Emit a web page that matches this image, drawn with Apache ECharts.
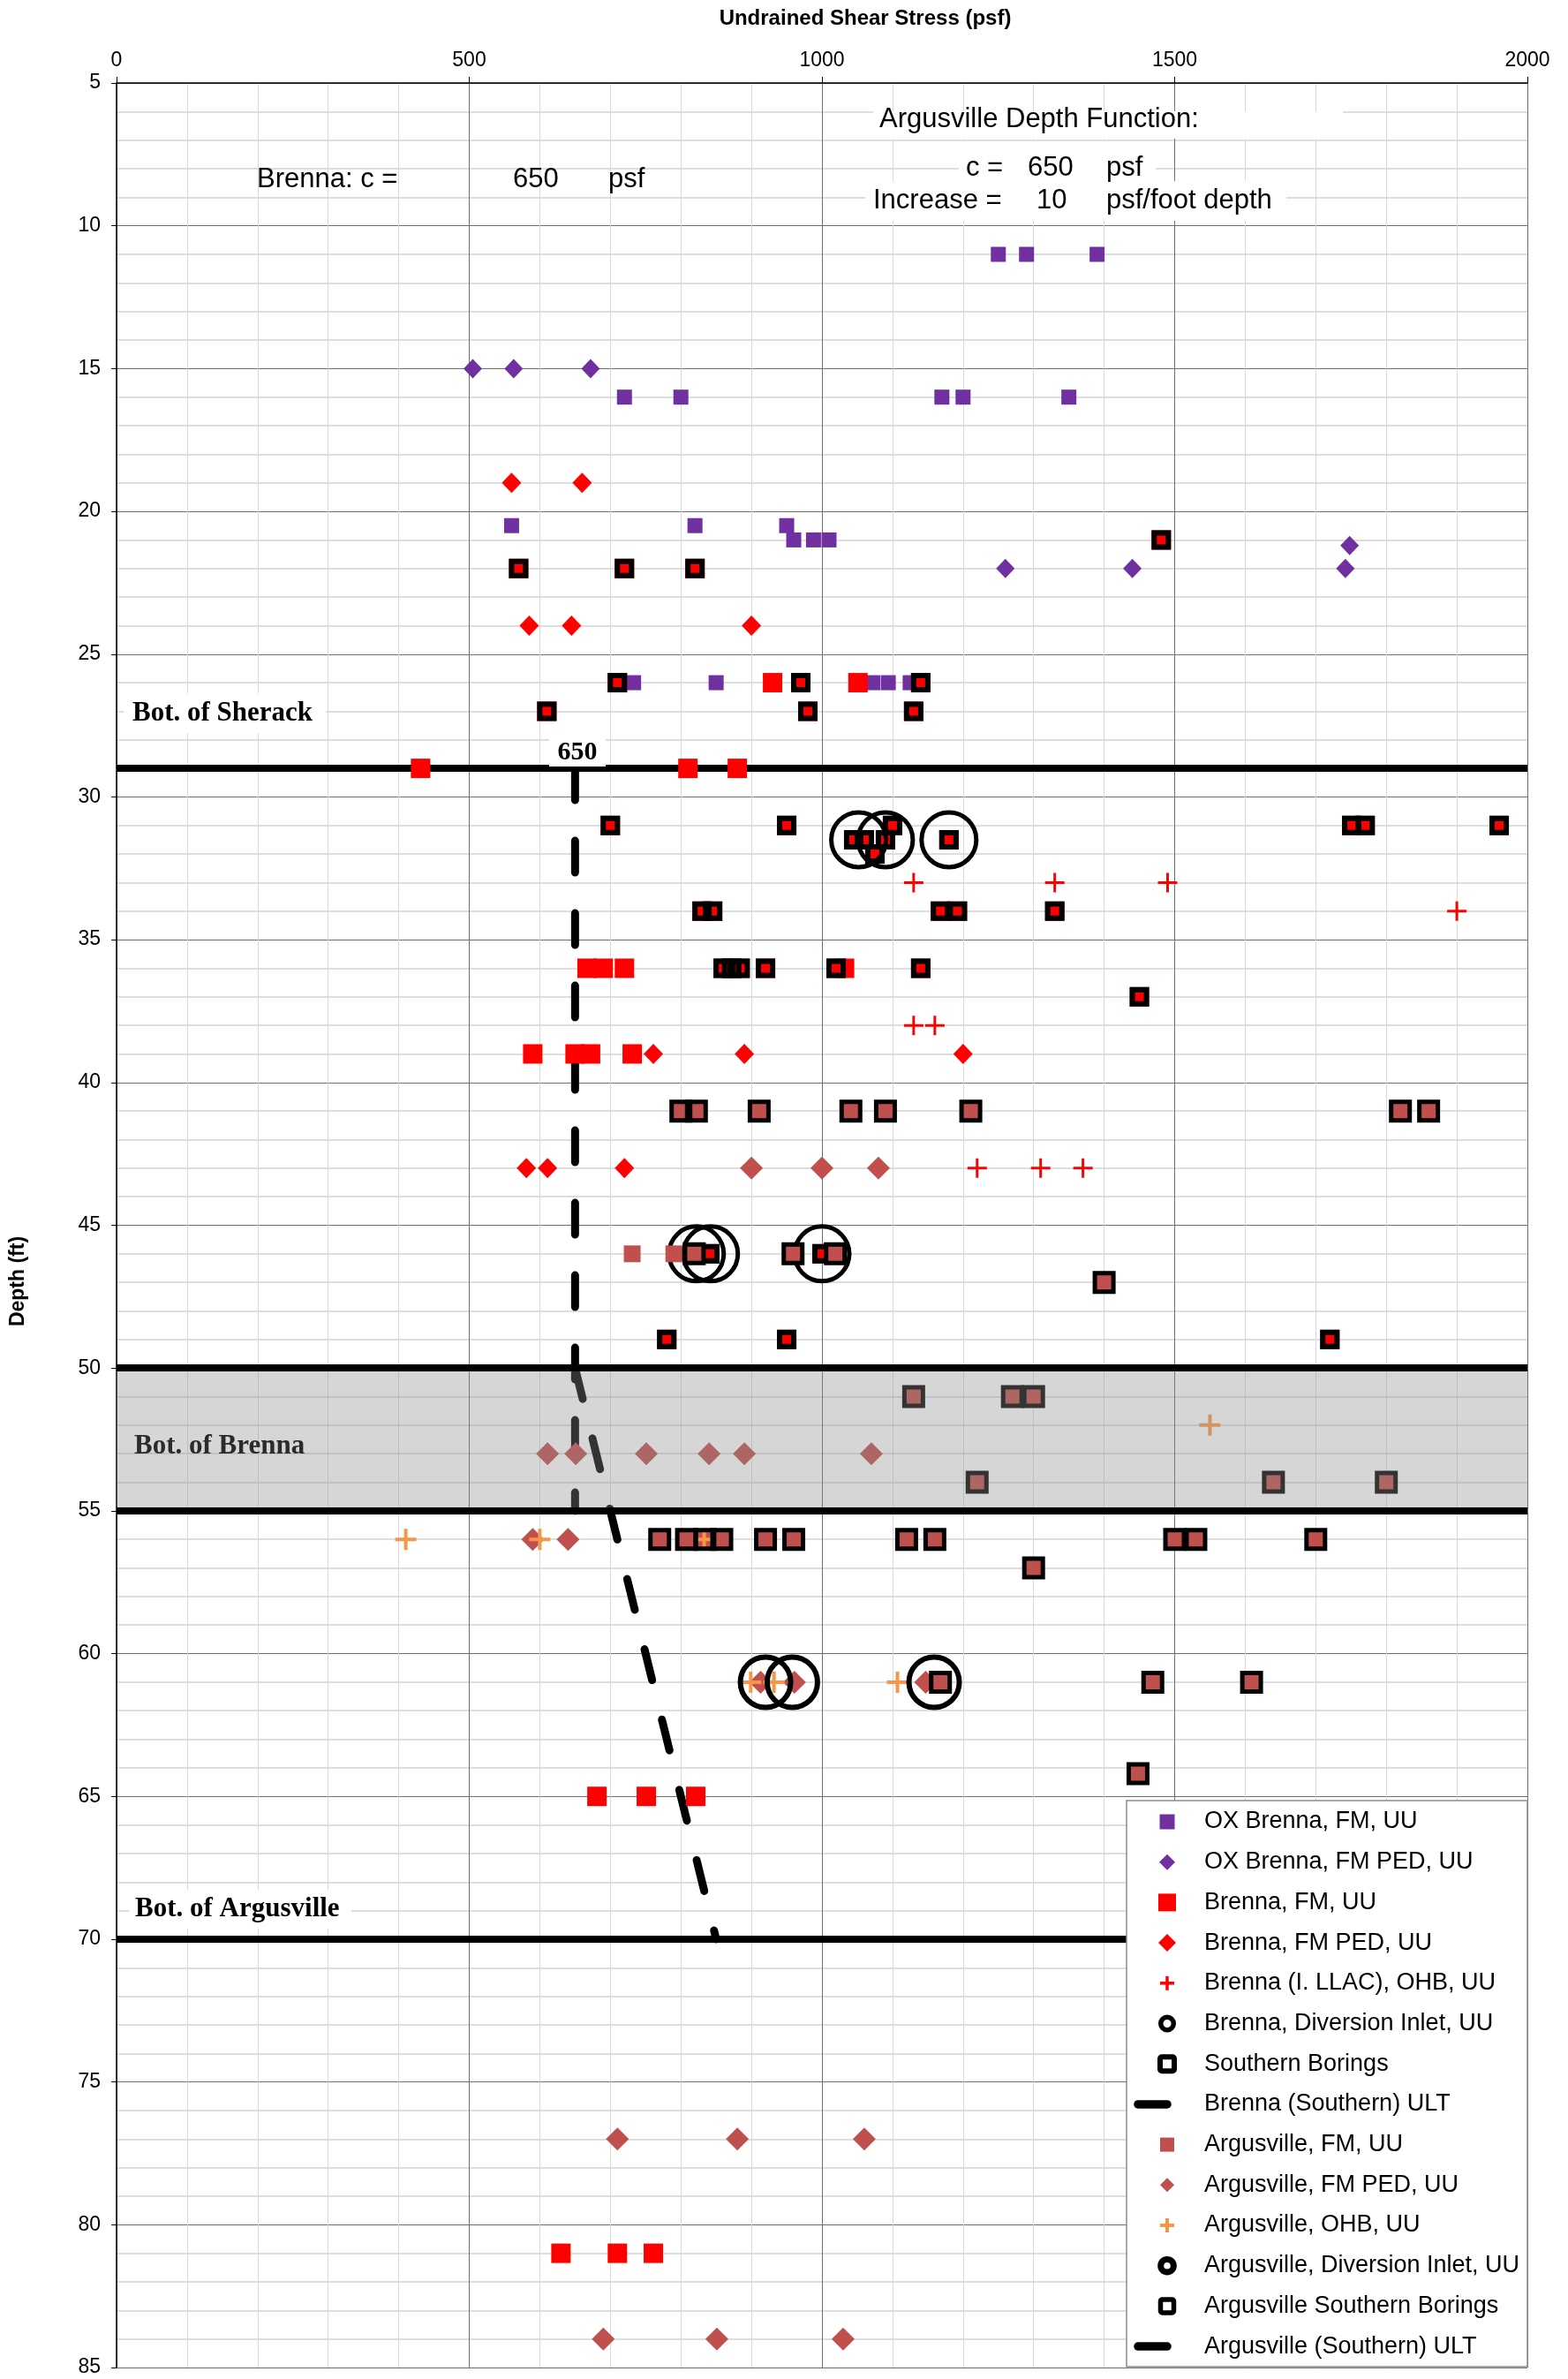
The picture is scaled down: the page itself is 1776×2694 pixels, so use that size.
<!DOCTYPE html>
<html>
<head>
<meta charset="utf-8">
<title>Undrained Shear Stress vs Depth</title>
<script src="https://cdn.jsdelivr.net/npm/echarts@6/dist/echarts.min.js"></script>
<style>
  html, body { margin: 0; padding: 0; background: #fff; }
  #chart { width: 1776px; height: 2694px; }
</style>
</head>
<body>
<div id="chart"></div>
<script>
  // each point is [shear stress (psf), depth (ft)]
  const oxBrennaFm = [
    [1250, 11], [1290, 11], [1390, 11],
    [720, 16], [800, 16], [1170, 16], [1200, 16], [1350, 16],
    [560, 20.5], [820, 20.5], [950, 20.5],
    [960, 21], [988, 21], [1010, 21],
    [733, 26], [850, 26], [1072, 26], [1094, 26], [1125, 26]
  ];
  const oxBrennaFmPed = [
    [505, 15], [563, 15], [672, 15], [1748, 21.2], [1260, 22], [1440, 22], [1742, 22]
  ];
  const brennaFm = [
    [930, 26], [1051, 26], [431, 29], [810, 29], [880, 29],
    [667, 36], [690, 36], [720, 36], [1032, 36],
    [590, 39], [650, 39], [672, 39], [731, 39],
    [681, 65], [751, 65], [821, 65],
    [630, 81], [710, 81], [761, 81]
  ];
  const brennaFmPed = [
    [560, 19], [660, 19], [585, 24], [645, 24], [900, 24],
    [761, 39], [890, 39], [1200, 39], [581, 43], [611, 43], [720, 43]
  ];
  const brennaOhb = [
    [1130, 33], [1330, 33], [1490, 33], [1900, 34], [1130, 38], [1160, 38],
    [1220, 43], [1310, 43], [1370, 43]
  ];
  const brennaInlet = [
    [1052, 31.5], [1090, 31.5], [1180, 31.5], [822, 46], [842, 46], [1000, 46]
  ];
  // southern borings sit on top of Brenna FM tests (red centres)
  const southernBorings = [
    [1481, 21], [570, 22], [720, 22], [820, 22],
    [710, 26], [970, 26], [1140, 26], [610, 27], [980, 27], [1130, 27],
    [700, 31], [950, 31], [1100, 31], [1751, 31], [1770, 31], [1960, 31],
    [1045, 31.5], [1060, 31.5], [1090, 31.5], [1180, 31.5], [1075, 32],
    [830, 34], [845, 34], [1168, 34], [1192, 34], [1330, 34],
    [860, 36], [872, 36], [884, 36], [920, 36], [1020, 36], [1140, 36],
    [1450, 37], [841, 46], [1000, 46], [780, 49], [950, 49], [1720, 49]
  ];
  const brennaUlt = [[650, 29], [650, 55]];

  const argusFm = [[731, 46], [790, 46]];
  const argusFmPed = [
    [900, 43], [1000, 43], [1080, 43],
    [611, 53], [651, 53], [751, 53], [840, 53], [890, 53], [1070, 53],
    [590, 56], [640, 56],
    [913, 61], [961, 61], [1147, 61],
    [710, 77], [880, 77], [1060, 77],
    [690, 84], [851, 84], [1030, 84]
  ];
  const argusOhb = [
    [1550, 52], [410, 56], [600, 56], [833, 56], [899, 61], [932, 61], [1107, 61]
  ];
  const argusInlet = [[920, 61], [958, 61], [1159, 61]];
  // argusville southern borings sit on top of Argusville FM tests (brown centres)
  const argusSouthern = [
    [800, 41], [822, 41], [911, 41], [1041, 41], [1090, 41], [1211, 41], [1820, 41], [1860, 41],
    [819, 46], [959, 46], [1019, 46], [1400, 47],
    [1130, 51], [1270, 51], [1300, 51],
    [1220, 54], [1640, 54], [1800, 54],
    [770, 56], [808, 56], [834, 56], [858, 56], [920, 56], [960, 56],
    [1120, 56], [1160, 56], [1500, 56], [1530, 56], [1700, 56],
    [1300, 57], [1168, 61], [1469, 61], [1609, 61], [1448, 64.2]
  ];
  const argusUlt = [[650, 50], [850, 70]];

  const layerBottoms = [29, 50, 55, 70];
  const brennaBand = [50, 55];
  const brennaC = 650;
  const argusC = 650;
  const argusIncrease = 10;

  const xTicks = [0, 2000, 500];
  const yTicks = [5, 85, 5];

  const FONT = '"Liberation Sans", Arial, sans-serif';
  const SERIF = '"Liberation Serif", "Times New Roman", serif';
  const PURPLE = '#7030A0';
  const RED = '#FF0000';
  const BROWN = '#C0504D';
  const ORANGE = '#F79646';
  const CROSS_THIN = 'path://M9.5,0H12.5V9.5H22V12.5H12.5V22H9.5V12.5H0V9.5H9.5Z';
  const CROSS_WIDE = 'path://M10,0H14V10H24V14H14V24H10V14H0V10H10Z';

  const chart = echarts.init(document.getElementById('chart'));

  const scatter = (name, data, symbol, size, itemStyle) => ({
    name, type: 'scatter', data, symbol, symbolSize: size,
    itemStyle: Object.assign({ opacity: 1 }, itemStyle),
    silent: true, z: 2
  });
  const hollow = (width) => ({ color: 'rgba(0,0,0,0)', borderColor: '#000', borderWidth: width });
  const ultLine = { color: '#000', width: 9, type: [36, 46], cap: 'round', opacity: 1 };

  const series = [
    scatter('OX Brenna, FM, UU', oxBrennaFm, 'rect', 17, { color: PURPLE }),
    scatter('OX Brenna, FM PED, UU', oxBrennaFmPed, 'diamond', [21, 22], { color: PURPLE }),
    scatter('Brenna, FM, UU', brennaFm.concat(southernBorings), 'rect', 22, { color: RED }),
    scatter('Brenna, FM PED, UU', brennaFmPed, 'diamond', [22, 23], { color: RED }),
    scatter('Brenna (I. LLAC), OHB, UU', brennaOhb, CROSS_THIN, 22, { color: RED }),
    scatter('Brenna, Diversion Inlet, UU', brennaInlet, 'circle', 62, hollow(5)),
    scatter('Southern Borings', southernBorings, 'rect', 16, hollow(6)),
    {
      name: 'Brenna (Southern) ULT', type: 'line', data: brennaUlt, symbol: 'none',
      lineStyle: ultLine, z: 1, silent: true
    },
    scatter('Argusville, FM, UU', argusFm.concat(argusSouthern), 'rect', 19, { color: BROWN }),
    scatter('Argusville, FM PED, UU', argusFmPed, 'diamond', 26, { color: BROWN }),
    scatter('Argusville, OHB, UU', argusOhb, CROSS_WIDE, 24, { color: ORANGE }),
    scatter('Argusville, Diversion Inlet, UU', argusInlet, 'circle', 57, hollow(6)),
    scatter('Argusville Southern Borings', argusSouthern, 'rect', 21, hollow(5)),
    {
      name: 'Argusville (Southern) ULT', type: 'line', data: argusUlt, symbol: 'none',
      lineStyle: ultLine, z: 1, silent: true
    },
    // layer boundaries under the markers
    {
      name: 'bottoms-low', type: 'line', data: [], silent: true,
      markLine: {
        silent: true, symbol: 'none', z: 1, animation: false,
        label: { show: false },
        lineStyle: { color: '#000', width: 8, type: 'solid' },
        data: layerBottoms.filter(d => d === 29 || d === 70).map(d => ({ yAxis: d }))
      }
    },
    // shaded Brenna band drawn over everything, with its edges on top
    {
      name: 'band', type: 'line', data: [], silent: true,
      markArea: {
        silent: true, z: 10,
        itemStyle: { color: 'rgba(140,140,140,0.36)' },
        data: [[{ yAxis: brennaBand[0] }, { yAxis: brennaBand[1] }]]
      },
      markLine: {
        silent: true, symbol: 'none', z: 11, animation: false,
        label: { show: false },
        lineStyle: { color: '#000', width: 8, type: 'solid' },
        data: layerBottoms.filter(d => d === 50 || d === 55).map(d => ({ yAxis: d }))
      }
    }
  ];

  const option = {
    animation: false,
    backgroundColor: '#fff',
    grid: { left: 132, right: 46, top: 94, bottom: 13 },
    xAxis: {
      type: 'value', position: 'top',
      min: xTicks[0], max: xTicks[1], interval: xTicks[2],
      axisLine: { show: true, lineStyle: { color: '#000', width: 1.5 } },
      axisTick: { show: true, length: 7, lineStyle: { color: '#000' } },
      axisLabel: { fontSize: 23, fontFamily: FONT, color: '#000', margin: 14, formatter: v => String(v) },
      splitLine: { show: true, lineStyle: { color: '#6e6e6e', width: 1 } },
      minorTick: { show: false, splitNumber: 5 },
      minorSplitLine: { show: true, lineStyle: { color: '#d9d9d9', width: 1 } }
    },
    yAxis: {
      type: 'value', inverse: true,
      min: yTicks[0], max: yTicks[1], interval: yTicks[2],
      axisLine: { show: true, lineStyle: { color: '#000', width: 1.5 } },
      axisTick: { show: true, length: 6, lineStyle: { color: '#000' } },
      axisLabel: { fontSize: 23, fontFamily: FONT, color: '#000', margin: 18, formatter: v => String(v) },
      splitLine: { show: true, lineStyle: { color: '#6e6e6e', width: 1 } },
      minorTick: { show: false, splitNumber: 5 },
      minorSplitLine: { show: true, lineStyle: { color: '#d4d4d4', width: 1.5 } }
    },
    series
  };

  chart.setOption(option);

  // annotations
  const txt = (text, x, y, size, extra) => ({
    type: 'text', x, y, z: 100,
    style: Object.assign({
      text, fontSize: size, fontFamily: FONT, fill: '#000',
      align: 'left', verticalAlign: 'middle'
    }, extra || {})
  });
  const box = (x, y, w, h, extra) => ({
    type: 'rect', z: 99, shape: { x, y, width: w, height: h },
    style: Object.assign({ fill: '#fff' }, extra || {})
  });
  const serif = { fontFamily: SERIF, fontWeight: 'bold' };

  // legend drawn by hand so the keys match the marker shapes
  const legendIcon = (kind, cx, cy) => {
    const sq = (s, fill) => ({ type: 'rect', z: 100, shape: { x: cx - s / 2, y: cy - s / 2, width: s, height: s }, style: { fill } });
    const dia = (w, h, fill) => ({
      type: 'polygon', z: 100,
      shape: { points: [[cx, cy - h / 2], [cx + w / 2, cy], [cx, cy + h / 2], [cx - w / 2, cy]] },
      style: { fill }
    });
    const cross = (s, t, fill) => ({
      type: 'group', z: 100, children: [
        { type: 'rect', z: 100, shape: { x: cx - s / 2, y: cy - t / 2, width: s, height: t }, style: { fill } },
        { type: 'rect', z: 100, shape: { x: cx - t / 2, y: cy - s / 2, width: t, height: s }, style: { fill } }
      ]
    });
    const ring = (r, w) => ({ type: 'circle', z: 100, shape: { cx, cy, r }, style: { fill: 'none', stroke: '#000', lineWidth: w } });
    const hsq = (s, w) => ({
      type: 'rect', z: 100, shape: { x: cx - s / 2, y: cy - s / 2, width: s, height: s, r: 2 },
      style: { fill: 'none', stroke: '#000', lineWidth: w }
    });
    const dash = () => ({
      type: 'line', z: 100, shape: { x1: cx - 33, y1: cy, x2: cx + 0, y2: cy },
      style: { stroke: '#000', lineWidth: 9.5, lineCap: 'round' }
    });
    switch (kind) {
      case 0: return sq(17, PURPLE);
      case 1: return dia(18, 18, PURPLE);
      case 2: return sq(20, RED);
      case 3: return dia(20, 20, RED);
      case 4: return cross(16, 3.5, RED);
      case 5: return ring(7.3, 5.5);
      case 6: return hsq(16, 6);
      case 7: return dash();
      case 8: return sq(16, BROWN);
      case 9: return dia(16, 16, BROWN);
      case 10: return cross(16, 4, ORANGE);
      case 11: return ring(7.3, 7);
      case 12: return hsq(15, 5.5);
      default: return dash();
    }
  };
  const legendNames = series.slice(0, 14).map(s => s.name);
  const legendItems = [box(1276, 2039, 454, 641, { stroke: '#8c8c8c', lineWidth: 1.5 })];
  legendNames.forEach((n, i) => {
    const cy = 2063 + i * 45.7;
    legendItems.push(legendIcon(i, 1322, cy));
    legendItems.push(txt(n, 1364, cy, 27));
  });

  chart.setOption({
    graphic: [
      txt('Undrained Shear Stress (psf)', 980, 21, 24, { fontWeight: 'bold', align: 'center' }),
      Object.assign(txt('Depth (ft)', 21, 1451, 23, { fontWeight: 'bold', align: 'center' }),
        { rotation: Math.PI / 2 }),

      txt('Brenna: c =', 291, 203, 31),
      txt(String(brennaC), 581, 203, 31),
      txt('psf', 689, 203, 31),

      box(989, 126, 532, 31),
      box(1086, 160, 223, 45),
      box(980, 205, 477, 45),
      txt('Argusville Depth Function:', 996, 135, 31),
      txt('c =', 1094, 190, 31),
      txt(String(argusC), 1164, 190, 31),
      txt('psf', 1253, 190, 31),
      txt('Increase =', 989, 227, 31),
      txt(String(argusIncrease), 1174, 227, 31),
      txt('psf/foot depth', 1253, 227, 31),

      box(140, 785, 229, 45),
      txt('Bot. of Sherack', 150, 808, 31, serif),
      box(622, 835, 64, 33),
      txt(String(brennaC), 654, 852, 30, Object.assign({ align: 'center' }, serif)),
      txt('Bot. of Brenna', 152, 1638, 31, Object.assign({ fill: '#2b2b2b' }, serif)),
      box(146, 2140, 252, 44),
      txt('Bot. of Argusville', 153, 2162, 31, serif)
    ].concat(legendItems)
  });
</script>
</body>
</html>
